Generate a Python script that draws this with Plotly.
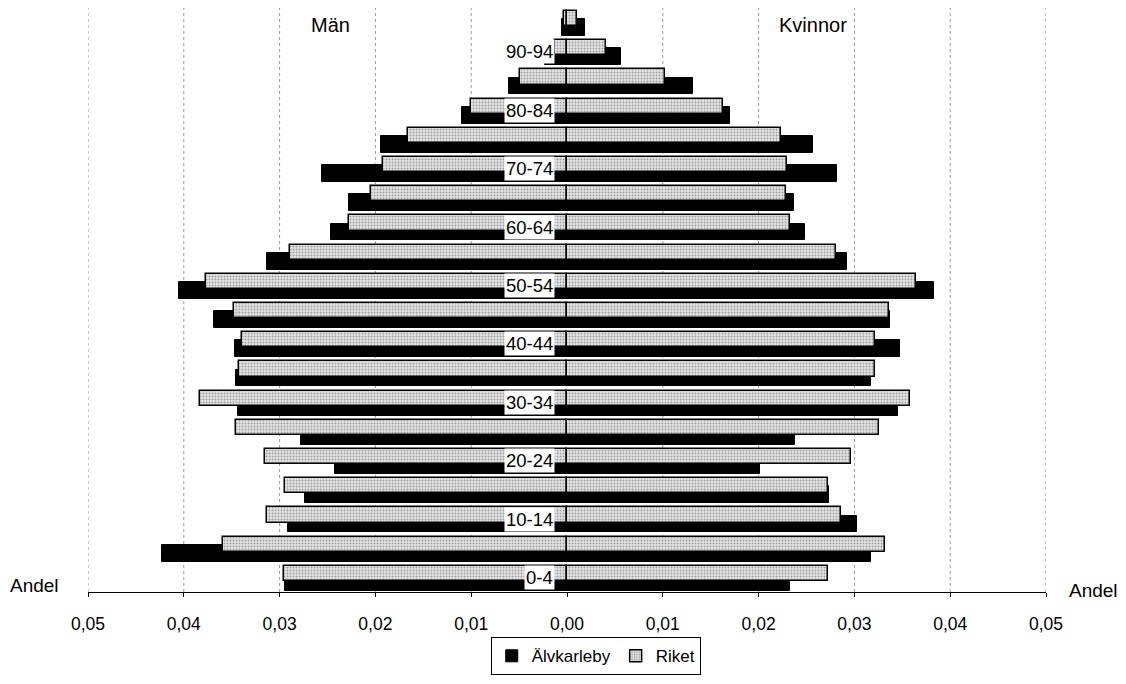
import plotly.graph_objects as go

ages = ["0-4", "5-9", "10-14", "15-19", "20-24", "25-29", "30-34", "35-39", "40-44", "45-49",
        "50-54", "55-59", "60-64", "65-69", "70-74", "75-79", "80-84", "85-89", "90-94", "95+"]
shown_labels = ["0-4", "10-14", "20-24", "30-34", "40-44", "50-54", "60-64", "70-74", "80-84", "90-94"]

# Men (drawn to the left)
alv_men = [0.0294, 0.0423, 0.0291, 0.0273, 0.0242, 0.0278, 0.0343, 0.0345, 0.0347, 0.0369,
           0.0405, 0.0313, 0.0246, 0.0228, 0.0256, 0.0194, 0.0110, 0.0061, 0.0023, 0.0005]
riket_men = [0.0295, 0.0359, 0.0313, 0.0294, 0.0315, 0.0345, 0.0383, 0.0342, 0.0339, 0.0348,
             0.0377, 0.0289, 0.0228, 0.0205, 0.0192, 0.0166, 0.0100, 0.0049, 0.0013, 0.0003]
# Women (drawn to the right)
alv_women = [0.0233, 0.0317, 0.0303, 0.0273, 0.0201, 0.0238, 0.0345, 0.0317, 0.0348, 0.0337,
             0.0383, 0.0292, 0.0248, 0.0237, 0.0282, 0.0257, 0.0170, 0.0132, 0.0056, 0.0019]
riket_women = [0.0272, 0.0332, 0.0286, 0.0272, 0.0296, 0.0326, 0.0358, 0.0321, 0.0321, 0.0336,
               0.0364, 0.0281, 0.0233, 0.0229, 0.0230, 0.0223, 0.0163, 0.0102, 0.0041, 0.0010]

tick_vals = [-0.05, -0.04, -0.03, -0.02, -0.01, 0.0, 0.01, 0.02, 0.03, 0.04, 0.05]
tick_text = ["0,05", "0,04", "0,03", "0,02", "0,01", "0,00", "0,01", "0,02", "0,03", "0,04", "0,05"]

FONT = "Arial, Liberation Sans, sans-serif"

fig = go.Figure()

black_style = dict(color="black", line=dict(color="black", width=1))
grey_style = dict(color="#d4d4d4",
                  pattern=dict(shape=".", fgcolor="#5a5a5a", bgcolor="#e4e4e4", size=3, solidity=0.35),
                  line=dict(color="black", width=1.5))

fig.add_trace(go.Bar(y=ages, x=[-v for v in alv_men], orientation="h", name="Älvkarleby",
                     marker=black_style, offset=-0.46, width=0.58, legendgroup="a", showlegend=True))
fig.add_trace(go.Bar(y=ages, x=alv_women, orientation="h", name="Älvkarleby",
                     marker=black_style, offset=-0.46, width=0.58, legendgroup="a", showlegend=False))
fig.add_trace(go.Bar(y=ages, x=[-v for v in riket_men], orientation="h", name="Riket",
                     marker=grey_style, offset=-0.12, width=0.52, legendgroup="r", showlegend=True))
fig.add_trace(go.Bar(y=ages, x=riket_women, orientation="h", name="Riket",
                     marker=grey_style, offset=-0.12, width=0.52, legendgroup="r", showlegend=False))

# dotted vertical gridlines at the tick positions (none at zero, as in the original)
shapes = [dict(type="line", xref="x", yref="paper", x0=v, x1=v, y0=0, y1=1, layer="below",
               line=dict(color="#9a9a9a", width=1, dash="dot"))
          for v in tick_vals if v != 0.0]

annotations = []
for lab in shown_labels:
    annotations.append(dict(x=-0.0013, y=lab, xref="x", yref="y", text=lab, showarrow=False,
                            xanchor="right", yanchor="middle", bgcolor="white", borderpad=1,
                            font=dict(family=FONT, size=18.5, color="black")))
annotations += [
    dict(x=-0.0247, y=1.0, xref="x", yref="paper", text="Män", showarrow=False,
         xanchor="center", yanchor="middle", yshift=-17, font=dict(family=FONT, size=20, color="black")),
    dict(x=0.0257, y=1.0, xref="x", yref="paper", text="Kvinnor", showarrow=False,
         xanchor="center", yanchor="middle", yshift=-17, font=dict(family=FONT, size=20, color="black")),
    dict(x=0, y=0, xref="paper", yref="paper", text="Andel", showarrow=False,
         xanchor="right", yanchor="middle", xshift=-27, yshift=7, font=dict(family=FONT, size=19, color="black")),
    dict(x=1, y=0, xref="paper", yref="paper", text="Andel", showarrow=False,
         xanchor="left", yanchor="middle", xshift=21, yshift=2, font=dict(family=FONT, size=19, color="black")),
]

fig.update_layout(
    width=1126, height=684,
    margin=dict(l=88, r=80, t=8, b=92),
    paper_bgcolor="white", plot_bgcolor="white",
    barmode="overlay", bargap=0,
    font=dict(family=FONT, size=17, color="black"),
    annotations=annotations,
    shapes=shapes,
    showlegend=True,
    legend=dict(orientation="h", x=0.53, xanchor="center", y=-0.11, yanchor="middle",
                bordercolor="black", borderwidth=1, bgcolor="white",
                font=dict(family=FONT, size=17, color="black"),
                itemwidth=30, tracegroupgap=0, traceorder="normal"),
)
fig.update_xaxes(range=[-0.05, 0.05], tickvals=tick_vals, ticktext=tick_text,
                 showgrid=False, zeroline=False, showline=True, linecolor="black", linewidth=1,
                 ticks="outside", ticklen=4, tickcolor="black", ticklabelstandoff=12,
                 tickfont=dict(family=FONT, size=17.5, color="black"), fixedrange=True)
fig.update_yaxes(categoryorder="array", categoryarray=ages, showticklabels=False,
                 showgrid=False, zeroline=False, showline=False, ticks="", range=[-0.5, 19.5])

fig.write_html("out.html")
